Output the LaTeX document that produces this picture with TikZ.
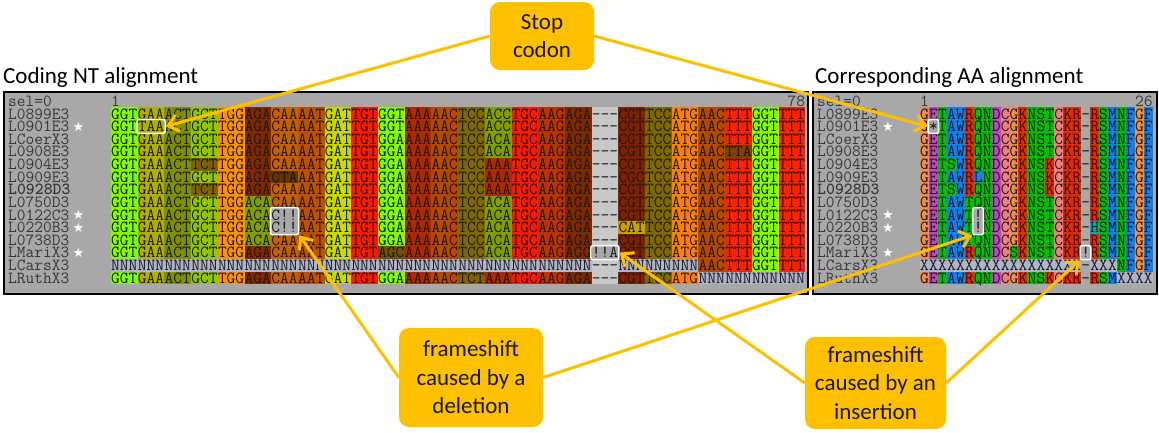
\documentclass[tikz,border=0pt]{standalone}
\usepackage{fontspec}
\setmainfont{Carlito}
\newfontfamily\starfont{DejaVu Sans}
\usetikzlibrary{arrows.meta}

\definecolor{calloutgold}{RGB}{255,192,0}
\definecolor{panelgray}{RGB}{168,168,168}
\definecolor{namegray}{RGB}{56,56,56}

\newcommand\ntcol[2]{\expandafter\def\csname nt@#1\endcsname{#2}}
\newcommand\aacol[2]{\expandafter\def\csname aa@#1\endcsname{#2}}

\ntcol{GGT}{128,255,0}\ntcol{GGA}{128,255,0}
\ntcol{GAA}{176,176,0}\ntcol{TAA}{176,176,0}
\ntcol{ACT}{128,144,0}\ntcol{ACA}{128,160,0}\ntcol{ACC}{128,160,0}
\ntcol{GCT}{144,200,0}
\ntcol{TCT}{128,96,0}\ntcol{TCC}{128,104,0}
\ntcol{TGG}{255,144,0}
\ntcol{AGA}{128,40,0}\ntcol{AGG}{128,40,0}
\ntcol{CAA}{200,96,0}\ntcol{CTA}{96,56,0}
\ntcol{AAT}{192,80,0}\ntcol{GAT}{200,220,0}
\ntcol{TGT}{255,24,0}\ntcol{TGC}{255,24,0}\ntcol{TTT}{255,32,0}\ntcol{TTA}{128,64,0}
\ntcol{AAA}{176,40,0}\ntcol{AAC}{184,72,0}\ntcol{AAG}{192,48,0}
\ntcol{CGT}{128,32,0}\ntcol{CGC}{128,32,0}
\ntcol{ATG}{255,128,0}\ntcol{CAT}{200,160,0}\ntcol{AGC}{112,80,0}
\ntcol{NNN}{176,180,200}\ntcol{---}{200,200,200}

\aacol{G}{240,144,72}
\aacol{E}{192,72,192}\aacol{D}{192,72,192}
\aacol{T}{0,192,0}\aacol{S}{0,192,0}\aacol{N}{0,192,0}\aacol{Q}{0,192,0}
\aacol{A}{16,128,240}\aacol{W}{16,128,240}\aacol{M}{16,128,240}\aacol{F}{16,128,240}\aacol{L}{16,128,240}
\aacol{R}{232,40,0}\aacol{K}{232,40,0}
\aacol{C}{240,128,128}\aacol{H}{21,164,164}\aacol{X}{176,180,200}

\newcommand\ntrow[3]{%
	\pgfmathsetmacro\ry{113.8+(#1-1)*12.62}
	\node[rowname] (ntname#1) at (8,\ry) {#2};
	\foreach \cdn [count=\k] in {#3}{
		\pgfmathsetmacro\cx{111+(\k-1)*26.7}
		\ifcsname nt@\cdn\endcsname
			\edef\rgbspec{\csname nt@\cdn\endcsname}
			\definecolor{cellcol}{RGB}{\rgbspec}
			\fill[cellcol] ({\cx},{\ry-6.31}) rectangle ++(26.7,12.62);
		\fi
		\node[seqtext] (nt#1-\k) at ({\cx},{\ry}) {\cdn};
	}}

\newcommand\aarow[3]{%
	\pgfmathsetmacro\ry{113.8+(#1-1)*12.62}
	\node[rowname] (aaname#1) at (817,\ry) {#2};
	\foreach \aares [count=\k] in {#3}{
		\pgfmathsetmacro\cx{920+(\k-1)*8.95}
		\ifcsname aa@\aares\endcsname
			\edef\rgbspec{\csname aa@\aares\endcsname}
			\definecolor{cellcol}{RGB}{\rgbspec}
			\fill[cellcol] ({\cx},{\ry-6.31}) rectangle ++(8.95,12.62);
		\fi
		\node[seqtext] (aa#1-\k) at ({\cx},{\ry}) {\aares};
	}}

\begin{document}
\begin{tikzpicture}[x=1pt, y=-1pt,
	seqtext/.style={anchor=west, inner sep=0, font=\fontsize{16.95}{17}\ttfamily, text=black!90, text height=10.5pt, text depth=0pt},
	rowname/.style={seqtext, text=namegray},
	starmark/.style={inner sep=0, font=\starfont\fontsize{13}{13}\selectfont, text=white},
	panelframe/.style={draw=black, line width=2pt, fill=panelgray},
	hlbox/.style={draw=white, line width=1.5pt, rounded corners=2pt, inner sep=0},
	callout/.style={fill=calloutgold, rounded corners=10pt, align=center, inner sep=0, text=black!90, font=\fontsize{23}{28.5}\selectfont},
	pointer/.style={draw=calloutgold, line width=3pt, -{Straight Barb[length=10pt, width=17pt]}}]
	\path[use as bounding box, fill=white] (0,0) rectangle (1159,432);

	\node[anchor=base west, inner sep=0, font=\fontsize{23}{28}\selectfont] (nttitle) at (3,83) {Coding NT alignment};
	\node[anchor=base west, inner sep=0, font=\fontsize{23}{28}\selectfont] (aatitle) at (815,83) {Corresponding AA alignment};

	\draw[panelframe] (3.5,91.5) rectangle (807.5,293.5);
	\draw[panelframe] (813,91.5) rectangle (1156.5,293.5);

	\node[rowname] (ntsel) at (8,101.2) {sel=0};
	\node[rowname] (ntfirst) at (111,101.2) {1};
	\node[rowname, anchor=east] (ntlast) at (805.2,101.2) {78};
	\node[rowname] (aasel) at (817,101.2) {sel=0};
	\node[rowname] (aafirst) at (920,101.2) {1};
	\node[rowname, anchor=east] (aalast) at (1152.7,101.2) {26};

	\ntrow{1}{L0899E3}{GGT,GAA,ACT,GCT,TGG,AGA,CAA,AAT,GAT,TGT,GGT,AAA,AAC,TCC,ACC,TGC,AAG,AGA,---,CGT,TCC,ATG,AAC,TTT,GGT,TTT}
	\ntrow{2}{L0901E3}{GGT,TAA,ACT,GCT,TGG,AGA,CAA,AAT,GAT,TGT,GGT,AAA,AAC,TCC,ACC,TGC,AAG,AGA,---,CGT,TCC,ATG,AAC,TTT,GGT,TTT}
	\ntrow{3}{LCoerX3}{GGT,GAA,ACT,GCT,TGG,AGA,CAA,AAT,GAT,TGT,GGA,AAA,AAC,TCC,ACA,TGC,AAG,AGA,---,CGT,TCC,ATG,AAC,TTT,GGT,TTT}
	\ntrow{4}{L0908E3}{GGT,GAA,ACT,GCT,TGG,AGA,CAA,AAT,GAT,TGT,GGA,AAA,AAC,TCC,ACA,TGC,AAG,AGA,---,CGT,TCC,ATG,AAC,TTA,GGT,TTT}
	\ntrow{5}{L0904E3}{GGT,GAA,ACT,TCT,TGG,AGA,CAA,AAT,GAT,TGT,GGA,AAA,AAC,TCC,AAA,TGC,AAG,AGA,---,CGT,TCC,ATG,AAC,TTT,GGT,TTT}
	\ntrow{6}{L0909E3}{GGT,GAA,ACT,GCT,TGG,AGA,CTA,AAT,GAT,TGT,GGA,AAA,AAC,TCC,AAA,TGC,AAG,AGA,---,CGC,TCC,ATG,AAC,TTT,GGT,TTT}
	\ntrow{7}{\bfseries L0928D3}{GGT,GAA,ACT,TCT,TGG,AGA,CAA,AAT,GAT,TGT,GGA,AAA,AAC,TCC,AAA,TGC,AAG,AGA,---,CGT,TCC,ATG,AAC,TTT,GGT,TTT}
	\ntrow{8}{L0750D3}{GGT,GAA,ACT,GCT,TGG,ACA,CAA,AAT,GAT,TGT,GGA,AAA,AAC,TCC,ACA,TGC,AAG,AGA,---,CGT,TCC,ATG,AAC,TTT,GGT,TTT}
	\ntrow{9}{L0122C3}{GGT,GAA,ACT,GCT,TGG,ACA,C!!,AAT,GAT,TGT,GGA,AAA,AAC,TCC,ACA,TGC,AAG,AGA,---,CGT,TCC,ATG,AAC,TTT,GGT,TTT}
	\ntrow{10}{L0220B3}{GGT,GAA,ACT,GCT,TGG,ACA,C!!,AAT,GAT,TGT,GGA,AAA,AAC,TCC,ACA,TGC,AAG,AGA,---,CAT,TCC,ATG,AAC,TTT,GGT,TTT}
	\ntrow{11}{L0738D3}{GGT,GAA,ACT,GCT,TGG,ACA,CAA,AAT,GAT,TGT,GGA,AAA,AAC,TCC,ACA,TGC,AAG,AGA,---,CGT,TCC,ATG,AAC,TTT,GGT,TTT}
	\ntrow{12}{LMariX3}{GGT,GAA,ACT,GCT,TGG,AGA,CAA,AAT,GAT,TGT,AGC,AAA,AAC,TCC,ACA,TGC,AAG,AGG,!!A,CGT,TCC,ATG,AAC,TTT,GGT,TTT}
	\ntrow{13}{LCarsX3}{NNN,NNN,NNN,NNN,NNN,NNN,NNN,NNN,NNN,NNN,NNN,NNN,NNN,NNN,NNN,NNN,NNN,NNN,---,NNN,NNN,NNN,AAC,TTT,GGT,TTT}
	\ntrow{14}{LRuthX3}{GGT,GAA,ACT,GCT,TGG,AGA,CAA,AAT,GAT,TGT,GGA,AAA,AAC,TCT,AAA,TGC,AAG,AGA,---,CGT,TCC,ATG,NNN,NNN,NNN,NNN}

	\aarow{1}{L0899E3}{G,E,T,A,W,R,Q,N,D,C,G,K,N,S,T,C,K,R,-,R,S,M,N,F,G,F}
	\aarow{2}{L0901E3}{G,*,T,A,W,R,Q,N,D,C,G,K,N,S,T,C,K,R,-,R,S,M,N,F,G,F}
	\aarow{3}{LCoerX3}{G,E,T,A,W,R,Q,N,D,C,G,K,N,S,T,C,K,R,-,R,S,M,N,F,G,F}
	\aarow{4}{L0908E3}{G,E,T,A,W,R,Q,N,D,C,G,K,N,S,T,C,K,R,-,R,S,M,N,L,G,F}
	\aarow{5}{L0904E3}{G,E,T,S,W,R,Q,N,D,C,G,K,N,S,K,C,K,R,-,R,S,M,N,F,G,F}
	\aarow{6}{L0909E3}{G,E,T,A,W,R,L,N,D,C,G,K,N,S,K,C,K,R,-,R,S,M,N,F,G,F}
	\aarow{7}{\bfseries L0928D3}{G,E,T,S,W,R,Q,N,D,C,G,K,N,S,K,C,K,R,-,R,S,M,N,F,G,F}
	\aarow{8}{L0750D3}{G,E,T,A,W,T,Q,N,D,C,G,K,N,S,T,C,K,R,-,R,S,M,N,F,G,F}
	\aarow{9}{L0122C3}{G,E,T,A,W,T,!,N,D,C,G,K,N,S,T,C,K,R,-,R,S,M,N,F,G,F}
	\aarow{10}{L0220B3}{G,E,T,A,W,T,!,N,D,C,G,K,N,S,T,C,K,R,-,H,S,M,N,F,G,F}
	\aarow{11}{L0738D3}{G,E,T,A,W,T,Q,N,D,C,G,K,N,S,T,C,K,R,-,R,S,M,N,F,G,F}
	\aarow{12}{LMariX3}{G,E,T,A,W,R,Q,N,D,C,S,K,N,S,T,C,K,R,!,R,S,M,N,F,G,F}
	\aarow{13}{LCarsX3}{X,X,X,X,X,X,X,X,X,X,X,X,X,X,X,X,X,X,-,X,X,X,N,F,G,F}
	\aarow{14}{LRuthX3}{G,E,T,A,W,R,Q,N,D,C,G,K,N,S,K,C,K,R,-,R,S,M,X,X,X,X}

	\foreach \r in {2,9,10,12}{
		\node[starmark] (ntstar\r) at (78.5,{113.8+(\r-1)*12.62}) {★};
		\node[starmark] (aastar\r) at (888,{113.8+(\r-1)*12.62}) {★};
	}

	\node[hlbox, minimum width=28, minimum height=14] (taa) at (151.05,126.42) {};
	\node[hlbox, minimum width=28, minimum height=27] (cdel) at (284.55,221.07) {};
	\node[hlbox, minimum width=28, minimum height=14] (nins) at (604.95,252.62) {};
	\node[hlbox, minimum width=10.5, minimum height=14] (astop) at (933.43,126.42) {};
	\node[hlbox, minimum width=10.5, minimum height=27] (adel) at (978.18,221.07) {};
	\node[hlbox, minimum width=10.5, minimum height=14] (ains) at (1085.58,252.62) {};

	\node[callout, minimum width=104, minimum height=68] (stop) at (542,36) {Stop\\codon};
	\node[callout, minimum width=144, minimum height=99] (del) at (471,377.5) {frameshift\\caused by a\\deletion};
	\node[callout, minimum width=141, minimum height=92] (ins) at (875.5,383) {frameshift\\caused by an\\insertion};

	\draw[pointer] (stop.west) -- (taa.east);
	\draw[pointer] (stop.east) -- (astop.west);
	\draw[pointer] (del.west) -- (cdel.south east);
	\draw[pointer] (del.east) -- (adel.south west);
	\draw[pointer] (ins.west) -- (nins.east);
	\draw[pointer] (ins.east) -- (ains.south west);
\end{tikzpicture}
\end{document}
